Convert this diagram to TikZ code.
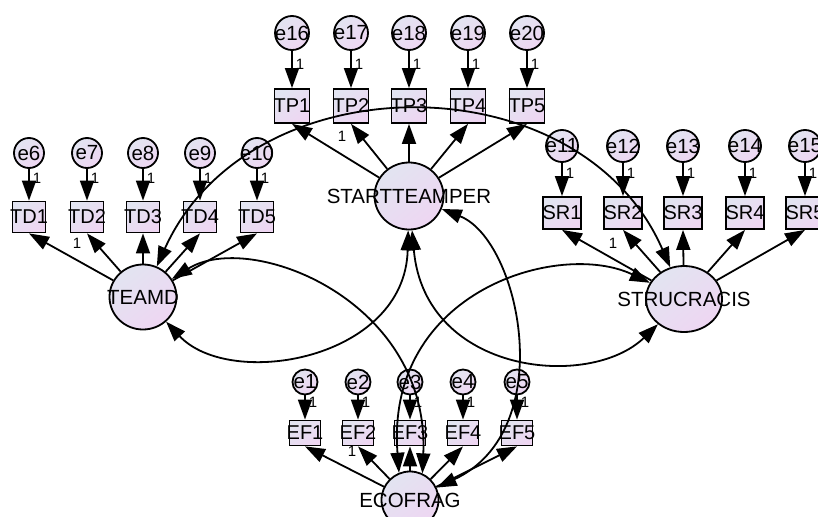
\documentclass[tikz,border=0pt]{standalone}
\usepackage{fontspec}
\setmainfont{Liberation Sans}
\usetikzlibrary{arrows.meta,shapes.geometric}
\definecolor{amosA}{RGB}{226,228,241}
\definecolor{amosB}{RGB}{238,214,242}
\begin{document}
\begin{tikzpicture}[>={Triangle[length=20pt,width=14pt]}, x=1pt, y=-1pt, line width=1.8pt,
    latent/.style 2 args={ellipse, draw, top color=amosA, bottom color=amosB, shading angle=40, inner sep=0pt, minimum width=#1, minimum height=#2, font=\fontsize{20.5}{24}\selectfont},
    error/.style={circle, draw, top color=amosA, bottom color=amosB, shading angle=40, inner sep=0pt, minimum size=#1, font=\fontsize{20.5}{24}\selectfont},
    item/.style 2 args={rectangle, draw, top color=amosA, bottom color=amosB, shading angle=40, inner sep=0pt, minimum width=#1, minimum height=#2, font=\fontsize{20}{24}\selectfont},
    one/.style={font=\fontsize{15}{17}\selectfont, inner sep=1pt}]
\useasboundingbox (0,0) rectangle (818,516);
\node[latent={69pt}{67pt}] (STT) at (409,196) {\makebox[0pt]{STARTTEAMPER}};
\node[latent={67pt}{65pt}] (TEAMD) at (143,297) {\makebox[0pt]{TEAMD}};
\node[latent={76pt}{66pt}] (STRUC) at (684,299) {\makebox[0pt]{STRUCRACIS}};
\node[latent={57pt}{57pt}] (ECO) at (410,500) {\makebox[0pt]{ECOFRAG}};
\foreach \i/\e/\x in {1/16/292,2/17/351,3/18/409,4/19/468,5/20/527}{
  \node[error=34pt] (e\e) at (\x,33) {\makebox[0pt]{e\e}};
  \node[item={35pt}{34pt}] (TP\i) at (\x,106) {\makebox[0pt]{TP\i}};
  \draw[->] (e\e) -- node[one, pos=.35, right=2pt] {1} (TP\i);
  \draw[->] (STT) -- (TP\i.south);
}
\foreach \i/\e/\x in {1/6/29,2/7/87,3/8/143,4/9/200,5/10/257}{
  \node[error=30pt] (e\e) at (\x,153) {\makebox[0pt]{e\e}};
  \node[item={33pt}{31pt}] (TD\i) at (\x,217) {\makebox[0pt]{TD\i}};
  \draw[->] (e\e) -- node[one, pos=.3, right=2pt] {1} (TD\i);
  \draw[->] (TEAMD) -- (TD\i.south);
}
\foreach \i/\e/\x in {1/11/562,2/12/623,3/13/683,4/14/745,5/15/805}{
  \node[error=32pt] (e\e) at (\x,146) {\makebox[0pt]{e\e}};
  \node[item={38pt}{32pt}] (SR\i) at (\x,213) {\makebox[0pt]{SR\i}};
  \draw[->] (e\e) -- node[one, pos=.3, right=2pt] {1} (SR\i);
  \draw[->] (STRUC) -- (SR\i.south);
}
\foreach \i/\x in {1/305,2/358,3/410,4/463,5/517}{
  \node[error=25pt] (e\i) at (\x,382) {\makebox[0pt]{e\i}};
  \node[item={31pt}{25pt}] (EF\i) at (\x,433) {\makebox[0pt]{EF\i}};
  \draw[->] (e\i) -- node[one, pos=.3, right=2pt] {1} (EF\i);
  \draw[->] (ECO) -- (EF\i.south);
}
\node[one] (fixTP) at (342,136) {1};
\node[one] (fixTD) at (77,243) {1};
\node[one] (fixSR) at (613,243) {1};
\node[one] (fixEF) at (352,451) {1};
\draw[<->] (TEAMD) .. controls (250,60) and (580,60) .. (STRUC);
\draw[<->] (TEAMD) .. controls (230,390) and (405,360) .. (STT);
\draw[<->] (STT) .. controls (425,375) and (590,390) .. (STRUC);
\draw[<->] (TEAMD) .. controls (250,230) and (430,300) .. (ECO.65);
\draw[<->] (STRUC) .. controls (560,240) and (385,290) .. (ECO.112);
\draw[<->] (STT) .. controls (520,240) and (560,430) .. (ECO);
\end{tikzpicture}
\end{document}
